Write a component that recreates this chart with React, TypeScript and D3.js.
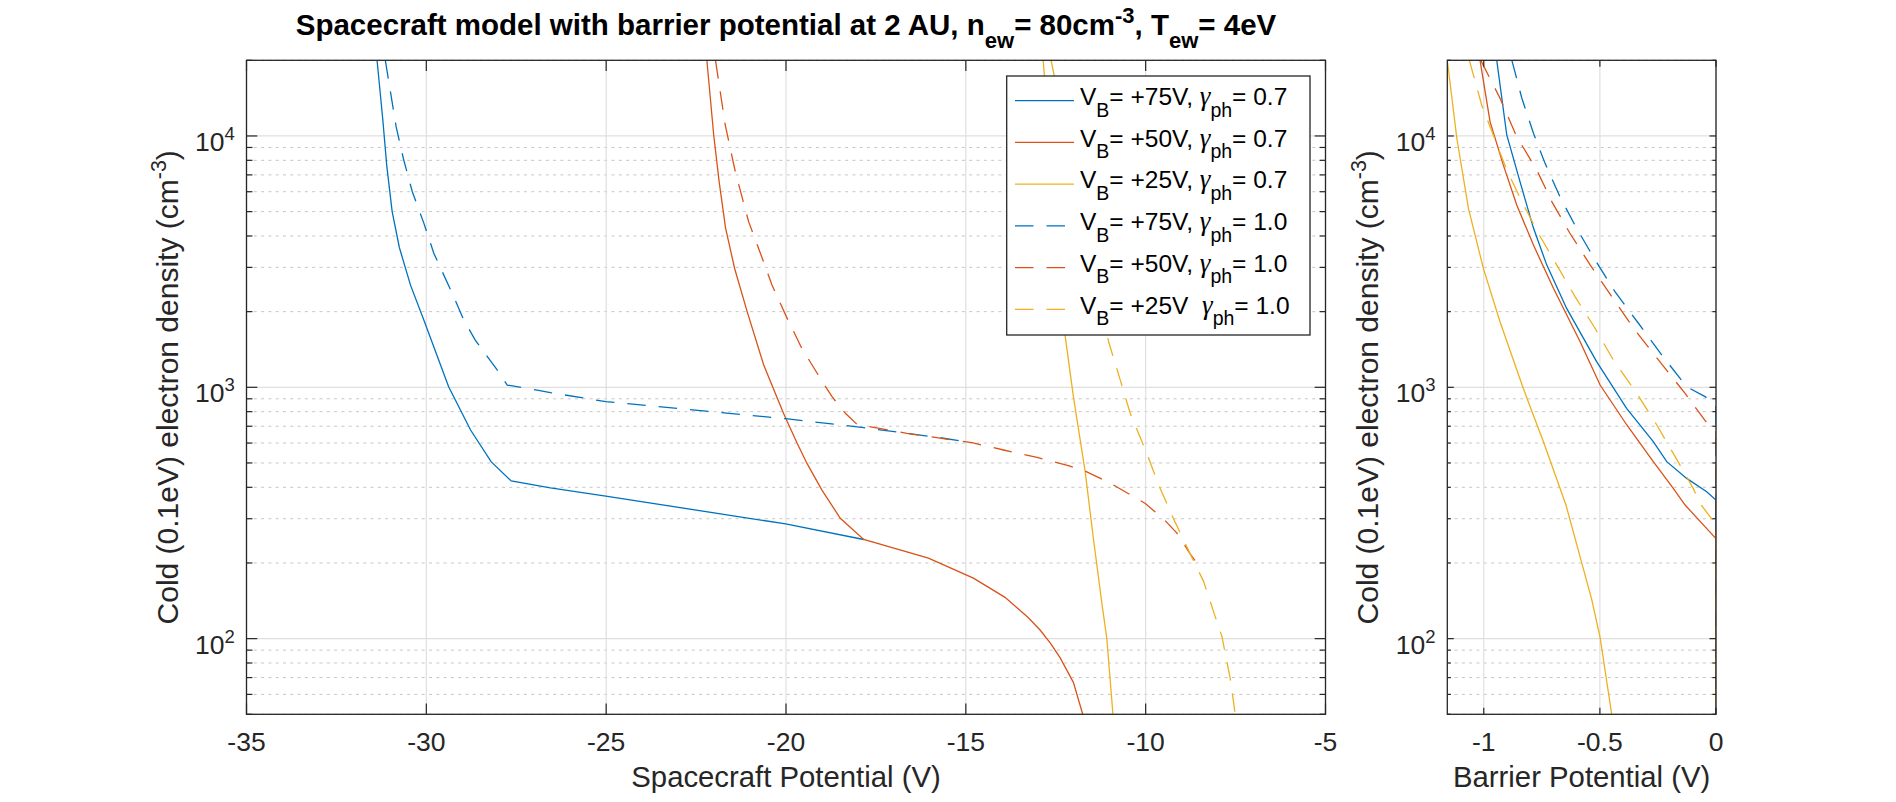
import * as d3 from 'd3';

type Pt = [number, number];

// Spacecraft potential (V) vs cold electron density (cm^-3)
const scVB75g07: Pt[] = [
  [-31.37, 20000], [-31.21, 11600], [-31.1, 7600], [-30.95, 5000], [-30.75, 3600],
  [-30.44, 2550], [-30.07, 1854], [-29.38, 1005], [-28.77, 676], [-28.2, 506],
  [-27.64, 424], [-26.55, 398], [-25.01, 369], [-20.01, 286], [-17.84, 248],
];
const scVB50g07: Pt[] = [
  [-22.2, 20000], [-22.01, 10090], [-21.86, 6600], [-21.68, 4300], [-21.43, 2977],
  [-21.08, 2000], [-20.62, 1227], [-20.07, 788], [-19.69, 599], [-19.42, 499],
  [-19.0, 390], [-18.49, 301], [-17.84, 248], [-16.04, 209], [-14.79, 174],
  [-13.91, 146], [-13.26, 121], [-12.93, 108], [-12.65, 96], [-12.38, 84],
  [-12.01, 67], [-11.75, 50],
];
const scVB25g07: Pt[] = [
  [-12.85, 20000], [-12.24, 1609], [-12.01, 920], [-11.68, 460], [-11.45, 248],
  [-11.22, 139], [-11.08, 100], [-10.91, 50],
];
const scVB75g10: Pt[] = [
  [-31.14, 20000], [-30.84, 10890], [-30.63, 8040], [-30.39, 6000], [-30.07, 4500],
  [-29.79, 3410], [-29.28, 2365], [-28.96, 1854], [-28.64, 1542], [-28.03, 1172],
  [-27.75, 1021], [-26.92, 975], [-26.55, 952], [-25.01, 877], [-20.01, 750],
  [-17.84, 691], [-15.71, 630], [-15.0, 607],
];
const scVB50g10: Pt[] = [
  [-21.96, 20000], [-21.69, 11070], [-21.41, 7210], [-21.04, 4560], [-20.71, 3410],
  [-20.39, 2553], [-19.99, 1911], [-19.56, 1429], [-19.0, 1059], [-18.72, 918],
  [-18.35, 788], [-18.03, 713], [-16.64, 656], [-14.83, 602], [-13.95, 563],
  [-13.02, 526], [-12.65, 510], [-12.15, 488], [-11.68, 464], [-11.26, 434],
  [-10.9, 409], [-10.01, 345], [-9.46, 295], [-9.13, 263], [-8.76, 217], [-8.6, 202],
];
const scVB25g10: Pt[] = [
  [-12.63, 20000], [-11.03, 1518], [-10.71, 1073], [-10.43, 788], [-9.97, 547],
  [-9.64, 409], [-9.23, 301], [-8.76, 217], [-8.39, 169], [-8.12, 129],
  [-7.88, 102], [-7.65, 69.5], [-7.51, 50],
];

// Barrier potential (V) vs cold electron density (cm^-3)
const barVB75g07: Pt[] = [
  [-0.944, 20000], [-0.901, 10090], [-0.844, 6580], [-0.786, 4300], [-0.729, 3070],
  [-0.643, 2060], [-0.514, 1265], [-0.385, 825], [-0.27, 608], [-0.212, 506],
  [-0.126, 434], [-0.04, 384], [0, 356], [0, 10],
];
const barVB50g07: Pt[] = [
  [-1.016, 20000], [-0.973, 11400], [-0.916, 7670], [-0.858, 5310], [-0.786, 3680],
  [-0.7, 2477], [-0.585, 1517], [-0.499, 1021], [-0.384, 708], [-0.27, 506],
  [-0.184, 396], [-0.133, 340], [0, 250], [0, 10],
];
const barVB25g07: Pt[] = [
  [-1.157, 20000], [-1.116, 9790], [-1.066, 5150], [-1.002, 2980], [-0.93, 1824],
  [-0.83, 991], [-0.743, 607], [-0.646, 340], [-0.535, 143], [-0.499, 101], [-0.449, 50],
];
const barVB75g10: Pt[] = [
  [-0.879, 20000], [-0.836, 14130], [-0.786, 10250], [-0.736, 7780], [-0.672, 5730],
  [-0.6, 4290], [-0.521, 3215], [-0.435, 2400], [-0.334, 1798], [-0.234, 1345],
  [-0.126, 1005], [-0.047, 918], [0, 851], [0, 10],
];
const barVB50g10: Pt[] = [
  [-1.013, 20000], [-0.93, 14130], [-0.858, 9930], [-0.772, 7330], [-0.707, 5480],
  [-0.629, 4100], [-0.542, 3070], [-0.449, 2296], [-0.349, 1690], [-0.248, 1285],
  [-0.133, 946], [-0.033, 708], [0, 664], [0, 10],
];
const barVB25g10: Pt[] = [
  [-1.062, 20000], [-1.009, 13280], [-0.959, 10090], [-0.901, 7330], [-0.836, 5480],
  [-0.765, 4100], [-0.686, 3070], [-0.607, 2296], [-0.521, 1718], [-0.442, 1284],
  [-0.341, 946], [-0.255, 708], [-0.176, 530], [-0.098, 396], [-0.069, 345],
  [0, 285], [0, 10],
];

const scTicks = [-35, -30, -25, -20, -15, -10, -5];
const barTicks = [-1, -0.5, 0];
const yMajor = [100, 1000, 10000];
const yMinor = [
  50, 60, 70, 80, 90, 200, 300, 400, 500, 600, 700, 800, 900,
  2000, 3000, 4000, 5000, 6000, 7000, 8000, 9000, 20000,
];
const yMajorExp = ['2', '3', '4'];

const legendVB = ['+75V', '+50V', '+25V', '+75V', '+50V', '+25V'];
const legendSep = [', ', ', ', ', ', ', ', ', ', '  '];
const legendGamma = ['0.7', '0.7', '0.7', '1.0', '1.0', '1.0'];

const BLUE = '#0072BD';
const RED = '#D95319';
const YELLOW = '#EDB120';
const AX = '#262626';
const FONT = '"Liberation Sans", Arial, Helvetica, sans-serif';
const GREEK = '"Liberation Serif", "Times New Roman", serif';

const lineColors = [BLUE, RED, YELLOW, BLUE, RED, YELLOW];
const lineDashed = [false, false, false, true, true, true];
const DASH = '18.5,13';

const TOP = 60.3;
const BOTTOM = 714.3;

interface PanelProps {
  id: string;
  left: number;
  right: number;
  xDomain: [number, number];
  xTicks: number[];
  series: Pt[][];
  xLabel: string;
  tickLen: number;
}

function Panel({ id, left, right, xDomain, xTicks, series, xLabel, tickLen }: PanelProps) {
  const x = d3.scaleLinear().domain(xDomain).range([left, right]);
  const y = d3.scaleLog().domain([50, 20000]).range([BOTTOM, TOP]);
  const line = d3
    .line<Pt>()
    .x((d) => x(d[0]))
    .y((d) => y(d[1]));
  const minorLen = tickLen * 0.55;
  const midY = (TOP + BOTTOM) / 2;

  return (
    <g>
      <defs>
        <clipPath id={id}>
          <rect x={left} y={TOP} width={right - left} height={BOTTOM - TOP} />
        </clipPath>
      </defs>

      {/* grid */}
      {yMinor.map((v) => (
        <line key={'mg' + v} x1={left} x2={right} y1={y(v)} y2={y(v)}
          stroke="#c6c6c6" strokeWidth={1} strokeDasharray="3,4.3" />
      ))}
      {yMajor.map((v) => (
        <line key={'g' + v} x1={left} x2={right} y1={y(v)} y2={y(v)} stroke="#dfdfdf" strokeWidth={1.2} />
      ))}
      {xTicks.map((v) => (
        <line key={'gx' + v} x1={x(v)} x2={x(v)} y1={TOP} y2={BOTTOM} stroke="#dfdfdf" strokeWidth={1.2} />
      ))}

      {/* data */}
      <g clipPath={`url(#${id})`}>
        {series.map((s, i) => (
          <path key={i} d={line(s) || ''} fill="none" stroke={lineColors[i]} strokeWidth={1.3}
            strokeDasharray={lineDashed[i] ? DASH : undefined} />
        ))}
      </g>

      {/* ticks */}
      {yMinor.map((v) => (
        <g key={'mt' + v} stroke={AX} strokeWidth={1.2}>
          <line x1={left} x2={left + minorLen} y1={y(v)} y2={y(v)} />
          <line x1={right} x2={right - minorLen} y1={y(v)} y2={y(v)} />
        </g>
      ))}
      {yMajor.map((v) => (
        <g key={'t' + v} stroke={AX} strokeWidth={1.2}>
          <line x1={left} x2={left + tickLen} y1={y(v)} y2={y(v)} />
          <line x1={right} x2={right - tickLen} y1={y(v)} y2={y(v)} />
        </g>
      ))}
      {xTicks.map((v) => (
        <g key={'tx' + v} stroke={AX} strokeWidth={1.2}>
          <line x1={x(v)} x2={x(v)} y1={BOTTOM} y2={BOTTOM - tickLen} />
          <line x1={x(v)} x2={x(v)} y1={TOP} y2={TOP + tickLen} />
        </g>
      ))}
      <rect x={left} y={TOP} width={right - left} height={BOTTOM - TOP} fill="none" stroke={AX} strokeWidth={1.3} />

      {/* tick labels */}
      <g fill={AX} fontFamily={FONT} fontSize={26.5}>
        {xTicks.map((v) => (
          <text key={'lx' + v} x={x(v)} y={750.7} textAnchor="middle">
            {String(v)}
          </text>
        ))}
        {yMajor.map((v, i) => (
          <text key={'ly' + v} x={left - 11.7} y={y(v) + 15} textAnchor="end">
            10
            <tspan dy={-11} fontSize={18.5}>{yMajorExp[i]}</tspan>
          </text>
        ))}
      </g>

      {/* axis labels */}
      <text x={(left + right) / 2} y={787} textAnchor="middle" fill={AX} fontFamily={FONT} fontSize={29.3}>
        {xLabel}
      </text>
      <text transform={`translate(${left - 69},${midY}) rotate(-90)`} textAnchor="middle"
        fill={AX} fontFamily={FONT} fontSize={30}>
        Cold (0.1eV) electron density (cm
        <tspan dy={-12} fontSize={21.5}>-3</tspan>
        <tspan dy={12}>)</tspan>
      </text>
    </g>
  );
}

function Legend() {
  const left = 1006.7;
  const top = 76;
  const rowY0 = 100.7;
  const rowStep = 41.72;
  const fs = 24.5;
  const sub = 11.5;
  const subFs = 19.5;
  return (
    <g>
      <rect x={left} y={top} width={303.3} height={259} fill="#fff" stroke={AX} strokeWidth={1.3} />
      {legendVB.map((vb, i) => {
        const ry = rowY0 + i * rowStep;
        return (
          <g key={i}>
            <line x1={1015} x2={1074} y1={ry} y2={ry} stroke={lineColors[i]} strokeWidth={1.3}
              strokeDasharray={lineDashed[i] ? DASH : undefined} />
            <text x={1080} y={ry + 4.3} fill="#000" fontFamily={FONT} fontSize={fs} style={{ whiteSpace: 'pre' }}>
              V
              <tspan dy={sub} fontSize={subFs}>B</tspan>
              <tspan dy={-sub}>{'= ' + vb + legendSep[i]}</tspan>
              <tspan fontFamily={GREEK} fontStyle="italic" fontSize={27}>γ</tspan>
              <tspan dy={sub} fontSize={subFs}>ph</tspan>
              <tspan dy={-sub}>{'= ' + legendGamma[i]}</tspan>
            </text>
          </g>
        );
      })}
    </g>
  );
}

export default function App() {
  return (
    <div style={{ position: 'absolute', left: 0, top: 0 }}>
      <svg width={1896} height={802} style={{ display: 'block', background: '#fff' }}>
        <rect width={1896} height={802} fill="#fff" />
        <Panel id="clipSc" left={246.5} right={1325.5} xDomain={[-35, -5]} xTicks={scTicks}
          series={[scVB75g07, scVB50g07, scVB25g07, scVB75g10, scVB50g10, scVB25g10]}
          xLabel="Spacecraft Potential (V)" tickLen={10.8} />
        <Panel id="clipBar" left={1447.3} right={1716} xDomain={[-1.157, 0]} xTicks={barTicks}
          series={[barVB75g07, barVB50g07, barVB25g07, barVB75g10, barVB50g10, barVB25g10]}
          xLabel="Barrier Potential (V)" tickLen={6.5} />
        <Legend />
        <text x={786} y={35} textAnchor="middle" fill="#000" fontFamily={FONT} fontSize={29.5} fontWeight="bold">
          Spacecraft model with barrier potential at 2 AU, n
          <tspan dy={13} fontSize={22}>ew</tspan>
          <tspan dy={-13}>= 80cm</tspan>
          <tspan dy={-12} fontSize={22}>-3</tspan>
          <tspan dy={12}>, T</tspan>
          <tspan dy={13} fontSize={22}>ew</tspan>
          <tspan dy={-13}>= 4eV</tspan>
        </text>
      </svg>
    </div>
  );
}
